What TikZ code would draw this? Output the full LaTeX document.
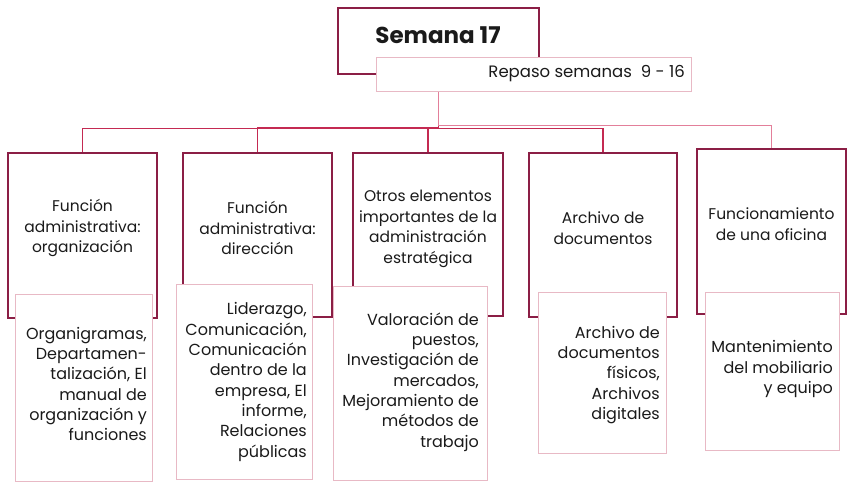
\documentclass[tikz,border=0pt]{standalone}
\usepackage{fontspec}
\setmainfont{Poppins}
\usetikzlibrary{positioning}
\definecolor{hdark}{HTML}{8B1E45}
\definecolor{conn}{HTML}{C42A52}
\definecolor{connlight}{HTML}{E37F9A}
\definecolor{lightb}{HTML}{E8B9C5}
\definecolor{txt}{HTML}{1A1A1A}
\pgfdeclarelayer{bg}
\pgfsetlayers{bg,main}
\tikzset{
  hbox/.style={draw=hdark, line width=1.3pt, fill=white, inner sep=0pt},
  sbox/.style={draw=lightb, line width=0.9pt, fill=white, inner sep=0pt},
  htext/.style={text=txt, align=center, font=\fontsize{15.5}{20.5}\selectfont, inner sep=0pt},
  stext/.style={text=txt, align=right, font=\fontsize{16}{20.3}\selectfont, inner sep=0pt},
  cline/.style={draw=conn, line width=1.3pt},
}
\begin{document}
\begin{tikzpicture}[x=1pt,y=-1pt]
\useasboundingbox (0,0) rectangle (853,485);
% top
\node[hbox, minimum width=201pt, minimum height=66pt] (top) at (438.5,41) {};
\node[text=txt, font=\fontsize{23}{26}\selectfont\bfseries, inner sep=0pt] (toptxt) at (438,35) {Semana 17};
\node[sbox, minimum width=315pt, minimum height=34pt] (rep) at (533.5,74) {};
\node[text=txt, font=\fontsize{16.5}{18}\selectfont, inner sep=0pt, anchor=east] (reptxt) at (685,74) {Repaso semanas\ \ 9 - 16};
% headers
\node[hbox, minimum width=149pt, minimum height=165pt] (h1) at (82.5,235.5) {};
\node[hbox, minimum width=149pt, minimum height=164pt] (h2) at (257.5,235) {};
\node[hbox, minimum width=150pt, minimum height=163pt] (h3) at (428,234.5) {};
\node[hbox, minimum width=148pt, minimum height=164pt] (h4) at (603,235) {};
\node[hbox, minimum width=149pt, minimum height=165pt] (h5) at (771.5,231.5) {};
\node[htext] (h1t) at (82.5,228) {Función\\administrativa:\\organización};
\node[htext] (h2t) at (257.5,228) {Función\\administrativa:\\dirección};
\node[htext] (h3t) at (428,229) {Otros elementos\\importantes de la\\administración\\estratégica};
\node[htext] (h4t) at (603,228) {Archivo de\\documentos};
\node[htext] (h5t) at (771.5,224) {Funcionamiento\\de una oficina};
% sub boxes
\node[sbox, minimum width=137pt, minimum height=187pt] (s1) at (83.5,387.5) {};
\node[sbox, minimum width=136pt, minimum height=195pt] (s2) at (244,381.5) {};
\node[sbox, minimum width=154pt, minimum height=194pt] (s3) at (410,383) {};
\node[sbox, minimum width=128pt, minimum height=161pt] (s4) at (602,372.5) {};
\node[sbox, minimum width=134pt, minimum height=158pt] (s5) at (772,371) {};
\node[stext, anchor=east] (s1t) at (147,384) {Organigramas,\\Departamen-\\talización, El\\manual de\\organización y\\funciones};
\node[stext, anchor=east] (s2t) at (307,382) {Liderazgo,\\Comunicación,\\Comunicación\\dentro de la\\empresa, El\\informe,\\Relaciones\\públicas};
\node[stext, anchor=east] (s3t) at (479,382) {Valoración de\\puestos,\\Investigación de\\mercados,\\Mejoramiento de\\métodos de\\trabajo};
\node[stext, anchor=east] (s4t) at (660,375) {Archivo de\\documentos\\físicos,\\Archivos\\digitales};
\node[stext, anchor=east] (s5t) at (833,369) {Mantenimiento\\del mobiliario\\y equipo};
% connectors
\begin{pgfonlayer}{bg}
\fill[white] (0,0) rectangle (853,485);
\draw[cline] (top.south) -- ++(0,54) -| (h1.north);
\draw[cline] (top.south) -- ++(0,53) -| (h2.north);
\draw[cline] (top.south) -- ++(0,54) -| (h3.north);
\draw[cline] (top.south) -- ++(0,54) -| (h4.north);
\draw[cline, draw=connlight] (top.south) -- ++(0,51) -| (h5.north);
\end{pgfonlayer}
\end{tikzpicture}
\end{document}
